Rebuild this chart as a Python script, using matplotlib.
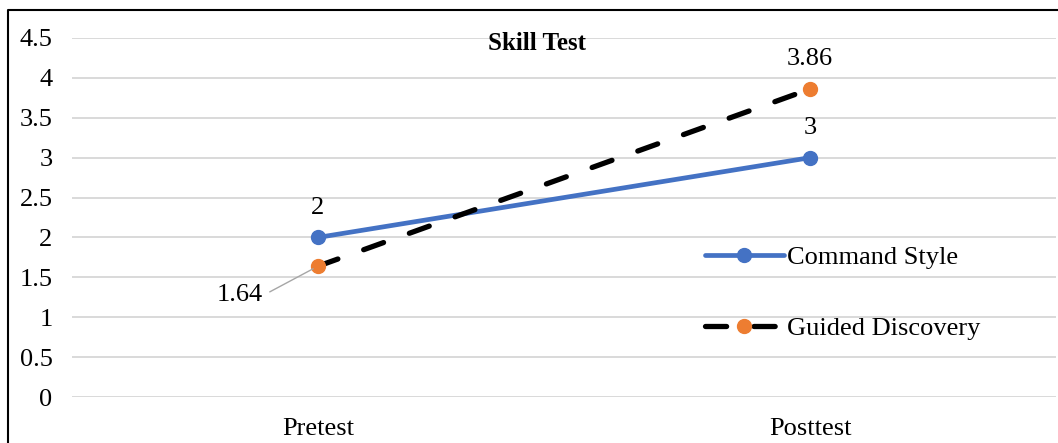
import matplotlib.pyplot as plt
from matplotlib.lines import Line2D

plt.rcParams['font.family'] = ['Liberation Serif', 'DejaVu Serif']

tests = ['Pretest', 'Posttest']
command_style = [2, 3]
guided_discovery = [1.64, 3.86]
yticks = [0, 0.5, 1, 1.5, 2, 2.5, 3, 3.5, 4, 4.5]
ytick_labels = ['0', '0.5', '1', '1.5', '2', '2.5', '3', '3.5', '4', '4.5']

W, H = 1058, 443
fig = plt.figure(figsize=(W / 100, H / 100), dpi=100)
ax = fig.add_axes([72 / W, 46 / H, 984 / W, 359 / H])

x = range(len(tests))
ax.plot(x, command_style, color='#4472C4', lw=3.4, marker='o', ms=10,
        solid_capstyle='round', label='Command Style', zorder=3)
ax.plot(x, guided_discovery, color='black', lw=3.8, ls=(0, (4, 5.2)),
        dash_capstyle='round', marker='o', ms=10, mfc='#ED7D31', mec='#ED7D31',
        label='Guided Discovery', zorder=3)

ax.set_xlim(-0.5, 1.5)
ax.set_ylim(0, 4.5)
ax.set_yticks(yticks)
ax.set_yticklabels(ytick_labels)
ax.set_xticks(list(x))
ax.set_xticklabels(tests)
ax.tick_params(axis='y', length=0, pad=14, labelsize=19)
ax.tick_params(axis='x', length=0, pad=15, labelsize=19)
ax.grid(axis='y', color='#D9D9D9', lw=1.4)
ax.set_axisbelow(True)
for s in ax.spines.values():
    s.set_visible(False)

# value labels
fs = 19
ax.annotate(str(command_style[0]), (0, command_style[0]), xytext=(0, 21),
            textcoords='offset points', ha='center', va='center', fontsize=fs)
ax.annotate(str(command_style[1]), (1, command_style[1]), xytext=(0, 21),
            textcoords='offset points', ha='center', va='center', fontsize=fs)
ax.annotate(f'{guided_discovery[1]:.2f}', (1, guided_discovery[1]), xytext=(0, 22),
            textcoords='offset points', ha='center', va='center', fontsize=fs)
ax.annotate(f'{guided_discovery[0]:.2f}', (0, guided_discovery[0]), xytext=(-56, -21),
            textcoords='offset points', ha='center', va='center', fontsize=fs,
            arrowprops=dict(arrowstyle='-', color='#A6A6A6', lw=1,
                            shrinkA=3, shrinkB=4, relpos=(1, 0.5)))

ax.text(0.4726, 0.985, 'Skill Test', transform=ax.transAxes, ha='center',
        va='center', fontsize=18, fontweight='bold')

ax.legend(loc='center left', bbox_to_anchor=(0.643, 0.29), frameon=False,
          fontsize=fs, handlelength=3.0, handletextpad=0.1, labelspacing=1.8,
          borderaxespad=0, borderpad=0)

# outer frame
fy = 1 - 10 / H
fx = 8 / W
fig.add_artist(Line2D([fx, fx, 1], [0, fy, fy], color='black', lw=1.5,
                      transform=fig.transFigure))

fig.savefig('out.png', dpi=100)
